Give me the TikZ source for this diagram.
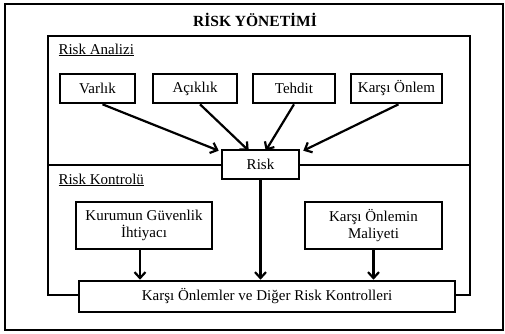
\documentclass[tikz,border=0pt]{standalone}
\usepackage{fontspec}
\setmainfont{Liberation Serif}
\usetikzlibrary{arrows.meta}
\tikzset{>={Straight Barb[length=6pt,width=11pt,line width=2.2pt]}}
\tikzset{kutu/.style={draw,fill=white,line width=2.6pt,inner sep=0pt,align=center,
    font=\fontsize{15}{17}\selectfont}}

\begin{document}
\begin{tikzpicture}[x=1pt,y=-1pt]
            \useasboundingbox (0,0) rectangle (505,333);
            \draw[line width=2.2pt] (5,4) rectangle (503,330);
            \node[font=\fontsize{15.5}{17}\selectfont\bfseries] (baslik) at (255,20) {RİSK YÖNETİMİ};
            \draw[line width=2.4pt] (48,36) rectangle (470,165);
            \draw[line width=2.4pt] (48,165) rectangle (470,295);
            \node[anchor=west,font=\fontsize{15}{17}\selectfont] (analiz) at (55,50) {\underline{Risk Analizi}};
            \node[anchor=west,font=\fontsize{15}{17}\selectfont] (kontrolu) at (55,180) {\underline{Risk Kontrolü}};
            \node[kutu,minimum width=75,minimum height=29] (varlik) at (97.5,88.5) {Varlık};
            \node[kutu,minimum width=84,minimum height=29] (aciklik) at (195,88.5) {Açıklık};
            \node[kutu,minimum width=82,minimum height=29] (tehdit) at (294,88.5) {Tehdit};
            \node[kutu,minimum width=91,minimum height=29] (onlem) at (396.5,88.5) {Karşı Önlem};
            \node[kutu,minimum width=77,minimum height=29] (risk) at (260.5,164.5) {Risk};
            \node[kutu,minimum width=136,minimum height=47] (ihtiyac) at (144,225.5) {Kurumun Güvenlik\\İhtiyacı};
            \node[kutu,minimum width=137,minimum height=47] (maliyet) at (373.5,225.5) {Karşı Önlemin\\Maliyeti};
            \node[kutu,minimum width=376,minimum height=31] (kontrol) at (267,296.5) {Karşı Önlemler ve Diğer Risk Kontrolleri};
            \draw[->,line width=2.2pt] ([xshift=5]varlik.south) -- ([xshift=-2,yshift=-2]risk.north west);
            \draw[->,line width=2.2pt] ([xshift=5]aciklik.south) -- ([xshift=28,yshift=-2]risk.north west);
            \draw[->,line width=2.2pt] (tehdit.south) -- ([xshift=45,yshift=-2]risk.north west);
            \draw[->,line width=2.2pt] ([xshift=2]onlem.south) -- ([xshift=3,yshift=-2]risk.north east);
            \draw[->,line width=2.2pt] (ihtiyac.south -| 140,0) -- (kontrol.north -| 140,0);
            \draw[->,line width=2.2pt] (risk.south) -- (kontrol.north -| risk.south);
            \draw[->,line width=2.2pt] (maliyet.south) -- (kontrol.north -| maliyet.south);
        \end{tikzpicture}
\end{document}
